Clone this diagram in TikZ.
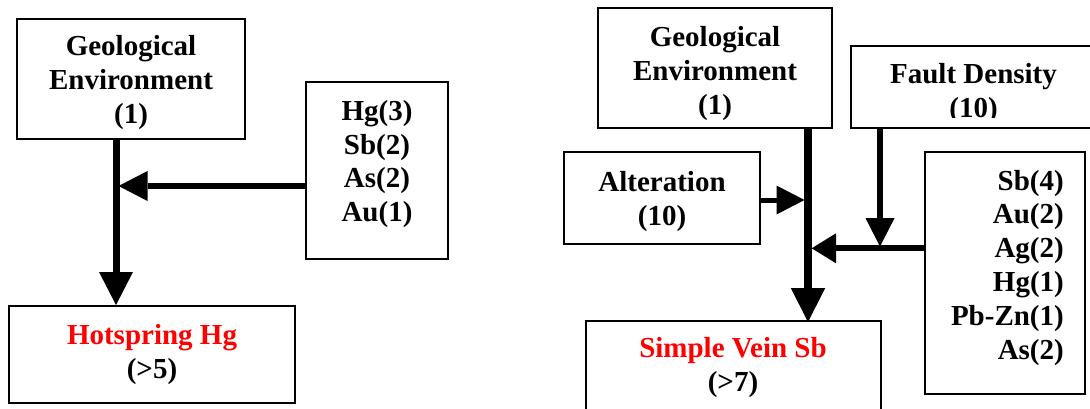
\documentclass[tikz,border=0pt]{standalone}
\usepackage{fontspec}
\setmainfont{Liberation Serif}
\usetikzlibrary{arrows.meta}
\definecolor{hotred}{RGB}{255,0,0}
\tikzset{
  box/.style={draw, line width=2pt, inner sep=0pt},
  txt/.style={font=\fontsize{29}{33.8}\selectfont\bfseries, inner sep=0pt, align=center},
  flow/.style args={#1/#2/#3}{line width=#1pt,
    -{Triangle[length=#2pt 0 0, width=#3pt 0 0, line width=0pt 0 0]}},
}
\begin{document}
\begin{tikzpicture}[x=1pt, y=-1pt]
\useasboundingbox (0,0) rectangle (1090,409);

% ---- left scheme: hotspring Hg ----
\node[box, minimum width=228pt, minimum height=120pt] (geoA) at (131,79) {};
\node[box, minimum width=142pt, minimum height=177pt] (elemA) at (377,170.5) {};
\node[box, minimum width=286pt, minimum height=97pt] (hotA) at (152,354.5) {};

% text nodes are placed by the baseline of their last line
\node[txt, anchor=base] (geoAtxt) at (131,123.5) {Geological\\Environment\\(1)};
\node[txt, anchor=base] (elemAtxt) at (377,221.7) {Hg(3)\\Sb(2)\\As(2)\\Au(1)};
\node[txt, anchor=base] (hotAtxt) at (152,378.3) {\textcolor{hotred}{Hotspring Hg}\\(>5)};

\coordinate (stemA) at (116,186);
\coordinate (tipA) at (118.5,186);
\draw[flow=7/33/34] (geoA.south -| stemA) -- (hotA.north -| stemA);
\draw[flow=6.5/29/30] (elemA.west |- stemA) -- (tipA);

% ---- right scheme: simple vein Sb ----
\node[box, minimum width=234pt, minimum height=120pt] (geoB) at (715,68.3) {};
\node[box, minimum width=245pt, minimum height=82.6pt] (faultB) at (973.5,87) {};
\node[box, minimum width=196pt, minimum height=91.7pt] (altB) at (662,198.2) {};
\node[box, minimum width=160pt, minimum height=242pt] (elemB) at (1005,273.3) {};
\node[box, minimum width=295pt, minimum height=100pt] (veinB) at (733.5,371) {};

\node[txt, anchor=base] (geoBtxt) at (715,114.3) {Geological\\Environment\\(1)};
\begin{scope}
  \clip (851,45.7) rectangle (1096,117.5);
  \node[txt, anchor=base] (faultBtxt) at (973.5,117.3) {Fault Density\\(10)};
\end{scope}
\node[txt, anchor=base] (altBtxt) at (662,225) {Alteration\\(10)};
\node[txt, anchor=base east, align=right] (elemBtxt) at (1064,359)
  {Sb(4)\\Au(2)\\Ag(2)\\Hg(1)\\Pb-Zn(1)\\As(2)};
\node[txt, anchor=base] (veinBtxt) at (733,391.7) {\textcolor{hotred}{Simple Vein Sb}\\(>7)};

\coordinate (stemB) at (808,248.3);
\coordinate (altTip) at (804.5,200);
\coordinate (faultTip) at (880,246.5);
\coordinate (elemTip) at (811.7,248.3);
\draw[flow=7.7/34/34.5] (geoB.south -| stemB) -- ([yshift=-2pt]veinB.north -| stemB);
\draw[flow=5/28/29] (altB.east |- altTip) -- (altTip);
\draw[flow=5.3/28.4/29] (faultB.south -| faultTip) -- (faultTip);
\draw[flow=5.7/24.3/30] (elemB.west |- elemTip) -- (elemTip);
\end{tikzpicture}
\end{document}
